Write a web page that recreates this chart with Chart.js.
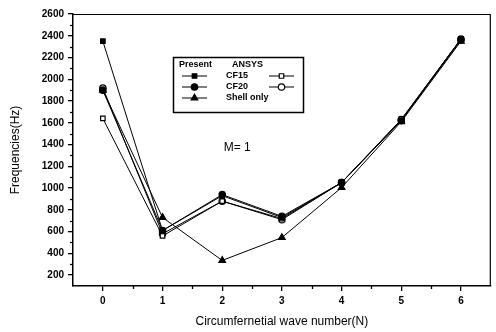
<!DOCTYPE html>
<html>
<head>
<meta charset="utf-8">
<script src="https://cdn.jsdelivr.net/npm/chart.js@4/dist/chart.umd.min.js"></script>
<style>
  html, body { margin: 0; padding: 0; background: #fff; }
  #wrap { width: 496px; height: 332px; }
</style>
</head>
<body>
<div id="wrap"><canvas id="c"></canvas></div>
<script>
// values (Hz)
const waveNumbers = [0, 1, 2, 3, 4, 5, 6];
const cf15Present = [2350, 610, 930, 730, 1050, 1620, 2370];
const cf15Ansys   = [1640, 560, 880, 720, 1050, 1630, 2370];
const cf20Present = [1900, 610, 940, 740, 1050, 1620, 2360];
const cf20Ansys   = [1920, 580, 880, 710, 1050, 1630, 2370];
const shellOnly   = [1900, 730, 335, 545, 1005, 1610, 2350];
const yTicks = [200, 400, 600, 800, 1000, 1200, 1400, 1600, 1800, 2000, 2200, 2400, 2600];
const xTicks = [0, 1, 2, 3, 4, 5, 6];

const FONT = "'Liberation Sans', Arial, sans-serif";

const toPoints = arr => arr.map((v, i) => ({x: waveNumbers[i], y: v}));

function series(label, values, style, filled) {
    return {
        label: label,
        data: toPoints(values),
        borderColor: '#000',
        borderWidth: 1,
        pointStyle: style,
        pointRadius: style === 'triangle' ? 3.8 : 3.2,
        pointBackgroundColor: filled ? '#000' : '#fff',
        pointBorderColor: '#000',
        pointBorderWidth: 1.2,
        tension: 0,
        fill: false
    };
}

const datasets = [
    series('CF15 Present', cf15Present, 'rect', true),
    series('CF15 ANSYS', cf15Ansys, 'rect', false),
    series('CF20 Present', cf20Present, 'circle', true),
    series('CF20 ANSYS', cf20Ansys, 'circle', false),
    series('Shell only', shellOnly, 'triangle', true),
];

// minor ticks, the legend box and the M = 1 note
const extras = {
    id: 'extras',
    afterDraw(chart) {
        const ctx = chart.ctx;
        const xs = chart.scales.x, ys = chart.scales.y;
        const area = chart.chartArea;
        ctx.save();
        ctx.strokeStyle = '#000';
        ctx.lineWidth = 1.3;
        for (let v = 300; v < 2600; v += 200) {
            const y = Math.round(ys.getPixelForValue(v)) + 0.5;
            ctx.beginPath(); ctx.moveTo(area.left - 3, y); ctx.lineTo(area.left, y); ctx.stroke();
        }
        for (let v = 0.5; v < 6.5; v += 1) {
            const x = Math.round(xs.getPixelForValue(v)) + 0.5;
            ctx.beginPath(); ctx.moveTo(x, area.bottom); ctx.lineTo(x, area.bottom + 3); ctx.stroke();
        }

        // legend
        const bx = 173, by = 57, bw = 130, bh = 55;
        ctx.fillStyle = '#fff';
        ctx.fillRect(bx, by, bw, bh);
        ctx.lineWidth = 1.5;
        ctx.strokeRect(bx + 0.5, by + 0.5, bw, bh);
        ctx.fillStyle = '#000';
        ctx.font = 'bold 9px ' + FONT;
        ctx.textBaseline = 'middle';
        ctx.textAlign = 'left';
        ctx.fillText('Present', 179, 65);
        ctx.fillText('ANSYS', 232, 65);
        const rows = [
            {text: 'CF15', left: datasets[0], right: datasets[1], y: 76},
            {text: 'CF20', left: datasets[2], right: datasets[3], y: 87},
            {text: 'Shell only', left: datasets[4], right: null, y: 98},
        ];
        rows.forEach(r => {
            ctx.fillStyle = '#000';
            ctx.fillText(r.text, 226, r.y);
            [[r.left, 182, 207], [r.right, 269, 294]].forEach(([ds, x0, x1]) => {
                if (!ds) return;
                ctx.strokeStyle = '#000';
                ctx.lineWidth = 1;
                ctx.beginPath(); ctx.moveTo(x0, r.y); ctx.lineTo(x1, r.y); ctx.stroke();
                ctx.fillStyle = ds.pointBackgroundColor;
                ctx.strokeStyle = '#000';
                ctx.lineWidth = 1.2;
                Chart.helpers.drawPoint(ctx, {
                    pointStyle: ds.pointStyle, radius: ds.pointRadius, rotation: 0, borderWidth: 1.2
                }, (x0 + x1) / 2, r.y);
            });
        });

        ctx.fillStyle = '#000';
        ctx.font = '12px ' + FONT;
        ctx.textAlign = 'center';
        ctx.fillText('M= 1', xs.getPixelForValue(2.25), ys.getPixelForValue(1370));
        ctx.restore();
    }
};

new Chart(document.getElementById('c'), {
    type: 'line',
    data: {datasets: datasets},
    options: {
        responsive: true,
        maintainAspectRatio: false,
        animation: false,
        layout: {padding: {top: 14, right: 2, left: 0, bottom: 0}},
        plugins: {legend: {display: false}, tooltip: {enabled: false}},
        scales: {
            x: {
                type: 'linear',
                min: -0.5,
                max: 6.5,
                afterBuildTicks: s => { s.ticks = xTicks.map(v => ({value: v})); },
                afterFit: s => { s.height = 46; },
                grid: {drawOnChartArea: false, tickLength: 5, color: '#000', lineWidth: 1.3},
                border: {color: '#000', width: 1.5},
                ticks: {color: '#000', padding: 4, maxRotation: 0, callback: v => String(v),
                        font: {family: FONT, size: 10, weight: 'bold'}},
                title: {display: true, text: 'Circumfernetial wave number(N)', color: '#000',
                        padding: {top: 2, bottom: 3}, font: {family: FONT, size: 12}}
            },
            y: {
                min: 100,
                max: 2600,
                afterBuildTicks: s => { s.ticks = yTicks.map(v => ({value: v})); },
                afterFit: s => { s.width = 73; },
                grid: {drawOnChartArea: false, tickLength: 5, color: '#000', lineWidth: 1.3},
                border: {color: '#000', width: 1.5},
                ticks: {color: '#000', padding: 4, callback: v => String(v),
                        font: {family: FONT, size: 10, weight: 'bold'}},
                title: {display: true, text: 'Frequencies(Hz)', color: '#000',
                        padding: {top: 8, bottom: 0}, font: {family: FONT, size: 12}}
            }
        }
    },
    plugins: [extras, {
        id: 'frame',
        beforeDatasetsDraw(chart) {
            const a = chart.chartArea, ctx = chart.ctx;
            ctx.save();
            ctx.strokeStyle = '#000';
            ctx.lineWidth = 1.2;
            ctx.beginPath();
            ctx.moveTo(a.left, a.top + 0.5); ctx.lineTo(a.right - 0.5, a.top + 0.5); ctx.lineTo(a.right - 0.5, a.bottom);
            ctx.stroke();
            ctx.restore();
        }
    }]
});
</script>
</body>
</html>
